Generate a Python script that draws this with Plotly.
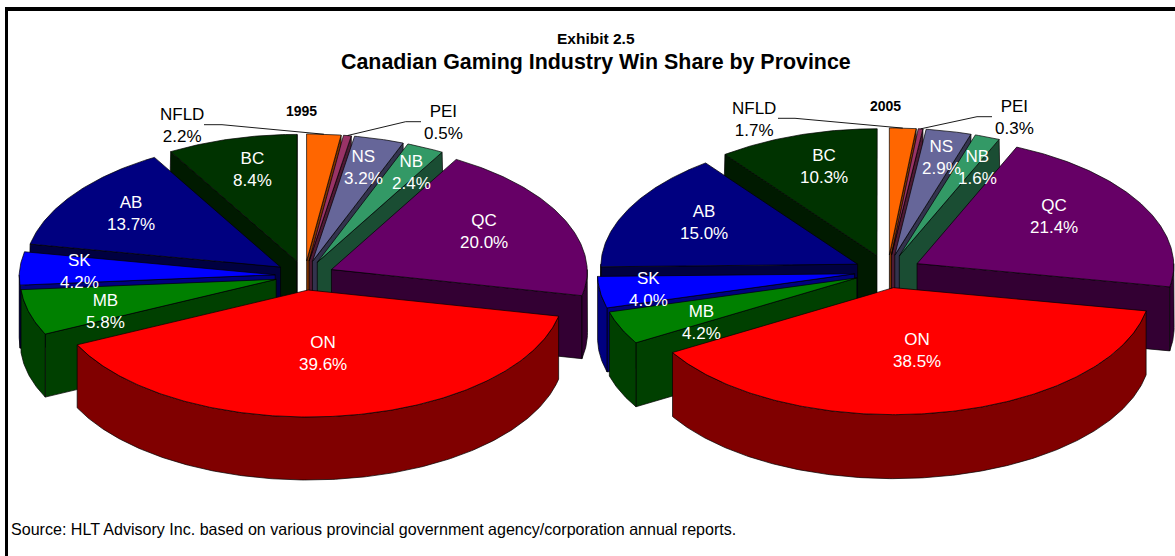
import numpy as np
import plotly.graph_objects as go

provinces = ["NFLD", "PEI", "NS", "NB", "QC", "ON", "MB", "SK", "AB", "BC"]
share_1995 = [2.2, 0.5, 3.2, 2.4, 20.0, 39.6, 5.8, 4.2, 13.7, 8.4]
share_2005 = [1.7, 0.3, 2.9, 1.6, 21.4, 38.5, 4.2, 4.0, 15.0, 10.3]

top_colors = ["#FF6600", "#993366", "#666699", "#339966", "#660066",
              "#FF0000", "#008000", "#0000FF", "#000080", "#003300"]
side_colors = ["#803300", "#4D1A33", "#33334D", "#1A4D33", "#330033",
               "#800000", "#004000", "#000080", "#000040", "#001A00"]
draw_order = ["BC", "NFLD", "PEI", "NS", "NB", "QC", "AB", "SK", "MB", "ON"]

W, H = 1175, 556
PERSPECTIVE = 0.02
pie_1995 = dict(cx=304.6, cy=275.5, rx=256, ry=127, depth=63, pull=0.115)
pie_2005 = dict(cx=887.6, cy=271.4, rx=257, ry=127, depth=64, pull=0.13)

label_pos_1995 = {"NFLD": (182, 125.5), "PEI": (443, 122.5), "NS": (363, 167.5), "NB": (411, 172.5),
                  "QC": (484, 231.5), "ON": (323, 353.5), "MB": (105, 311.5), "SK": (79, 271.5),
                  "AB": (131, 213.5), "BC": (252, 169.5)}
label_pos_2005 = {"NFLD": (754, 119.5), "PEI": (1014, 117.5), "NS": (941, 157.5), "NB": (977, 167.5),
                  "QC": (1054, 216.5), "ON": (917, 350.5), "MB": (701, 322.5), "SK": (648, 289.5),
                  "AB": (704, 222.5), "BC": (824, 166.5)}
leader_1995 = {"NFLD": [(204, 124.7), (222, 124.7)], "PEI": [(421, 121.7), (405.7, 121.7)]}
leader_2005 = {"NFLD": [(778, 118.3), (795, 118.3)], "PEI": [(992, 116.7), (977, 116.7)]}

fig = go.Figure()


def draw_pie(values, g, labels_at, leaders, year, year_at):
    def persp(xs, ys):
        xs, ys = np.asarray(xs, float), np.asarray(ys, float)
        back = np.minimum(0.0, (ys - g["cy"]) / g["ry"])
        return g["cx"] + (xs - g["cx"]) * (1 + PERSPECTIVE * back), ys

    def poly(xs, ys, fill):
        px, py = persp(xs, ys)
        fig.add_trace(go.Scatter(x=np.r_[px, px[0]], y=np.r_[py, py[0]], mode="lines",
                                 fill="toself", fillcolor=fill,
                                 line=dict(color="#000000", width=0.7),
                                 hoverinfo="skip", showlegend=False))

    total = sum(values)
    edges = np.concatenate([[0], np.cumsum(values)]) / total * 2 * np.pi
    geo = {}
    for i, name in enumerate(provinces):
        a0, a1 = edges[i], edges[i + 1]
        mid = (a0 + a1) / 2
        ax = g["cx"] + g["pull"] * g["rx"] * np.sin(mid)
        ay = g["cy"] - g["pull"] * g["ry"] * np.cos(mid)
        geo[name] = (i, a0, a1, mid, ax, ay)

    for name in draw_order:
        i, a0, a1, mid, ax, ay = geo[name]
        rim = lambda t: (ax + g["rx"] * np.sin(t), ay - g["ry"] * np.cos(t))
        d = g["depth"]
        # radial cut faces that turn toward the viewer
        for a, visible in ((a0, np.sin(a0) < 0), (a1, np.sin(a1) > 0)):
            if visible:
                x, y = rim(a)
                poly([ax, x, x, ax], [ay, y, y + d, ay + d], side_colors[i])
        # outer wall, front half only
        lo, hi = max(a0, np.pi / 2), min(a1, 3 * np.pi / 2)
        if hi > lo:
            t = np.linspace(lo, hi, max(3, int((hi - lo) * 90)))
            x, y = rim(t)
            poly(np.r_[x, x[::-1]], np.r_[y, y[::-1] + d], side_colors[i])
        # top face
        t = np.linspace(a0, a1, max(3, int((a1 - a0) * 90)))
        x, y = rim(t)
        poly(np.r_[ax, x], np.r_[ay, y], top_colors[i])

    for i, name in enumerate(provinces):
        px, py = labels_at[name]
        outside = name in leaders
        fig.add_annotation(x=px, y=py, text=f"{name}<br>{values[i]:.1f}%", showarrow=False,
                           font=dict(family="Liberation Sans", size=17,
                                     color="#000000" if outside else "#FFFFFF"),
                           xanchor="center", yanchor="middle")
        if outside:
            _, _, _, mid, ax, ay = geo[name]
            ex, ey = persp(ax + g["rx"] * np.sin(mid), ay - g["ry"] * np.cos(mid))
            pts = leaders[name] + [(float(ex), float(ey))]
            fig.add_trace(go.Scatter(x=[p[0] for p in pts], y=[p[1] for p in pts], mode="lines",
                                     line=dict(color="#000000", width=0.9),
                                     hoverinfo="skip", showlegend=False))
    fig.add_annotation(x=year_at[0], y=year_at[1], text=f"<b>{year}</b>", showarrow=False,
                       font=dict(family="Liberation Sans", size=14, color="#000000"))


draw_pie(share_1995, pie_1995, label_pos_1995, leader_1995, "1995", (301, 111))
draw_pie(share_2005, pie_2005, label_pos_2005, leader_2005, "2005", (885, 106))

fig.add_annotation(x=596, y=38, text="<b>Exhibit 2.5</b>", showarrow=False,
                   font=dict(family="Liberation Sans", size=15.5, color="#000000"))
fig.add_annotation(x=596, y=62, text="<b>Canadian Gaming Industry Win Share by Province</b>",
                   showarrow=False, font=dict(family="Liberation Sans", size=21.4, color="#000000"))
fig.add_annotation(x=9, y=529, xanchor="left",
                   text="Source: HLT Advisory Inc. based on various provincial government agency/corporation annual reports.",
                   showarrow=False, font=dict(family="Liberation Sans", size=16.07, color="#000000"))

fig.update_layout(
    width=W, height=H, margin=dict(l=0, r=0, t=0, b=0),
    paper_bgcolor="#FFFFFF", plot_bgcolor="#FFFFFF",
    xaxis=dict(range=[0, W], visible=False, fixedrange=True),
    yaxis=dict(range=[H, 0], visible=False, fixedrange=True),
    shapes=[
        dict(type="rect", xref="x", yref="y", x0=5, x1=8, y0=7, y1=H, fillcolor="#000000", line_width=0),
        dict(type="rect", xref="x", yref="y", x0=5, x1=W, y0=7, y1=11, fillcolor="#000000", line_width=0),
    ],
)

fig.write_html("out.html", config={"displayModeBar": False},
               post_script="document.body.style.margin='0';document.body.style.overflow='hidden';")
